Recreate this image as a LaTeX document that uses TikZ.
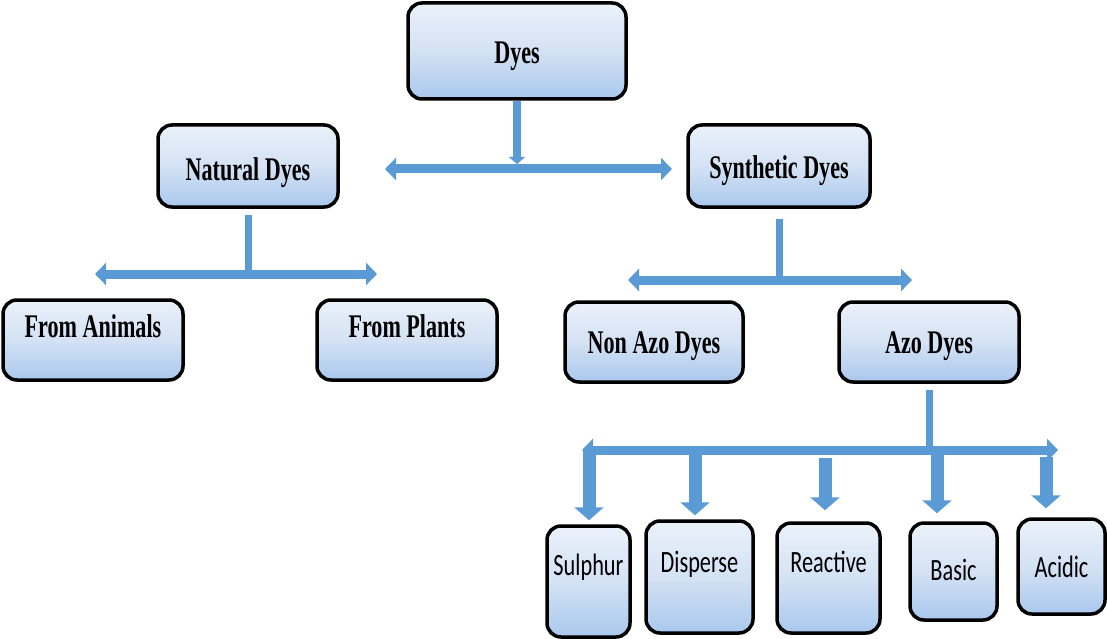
\documentclass[tikz,border=0pt]{standalone}
\usepackage{fontspec}
\setmainfont[FakeStretch=0.67]{Liberation Serif}
\newfontfamily\labelsans[FakeStretch=0.72]{Carlito}
\usetikzlibrary{arrows.meta}

\definecolor{arrowblue}{HTML}{5B9BD5}
\definecolor{boxtop}{HTML}{EAF1FA}
\definecolor{boxmid}{HTML}{D4E2F4}
\definecolor{boxbot}{HTML}{A9C8EE}

\tikzset{
  box/.style={draw=black, line width=3.5pt, rounded corners=14pt,
    top color=boxtop, bottom color=boxbot, middle color=boxmid,
    inner sep=2pt, anchor=center},
  serifbox/.style={box, font=\fontsize{33}{37}\selectfont\bfseries},
  sansbox/.style={box, font=\labelsans\fontsize{31}{35}\selectfont},
  stem/.style={draw=arrowblue, line width=7pt},
  topstem/.style={draw=arrowblue, line width=8pt,
    -{Triangle[length=7pt,width=16pt]}},
  bar/.style={draw=arrowblue, line width=9pt,
    -{Triangle[length=11pt,width=22pt]}},
  drop/.style={draw=arrowblue, line width=13pt,
    -{Triangle[length=13pt,width=29pt]}}
}

\begin{document}
\begin{tikzpicture}[x=1pt,y=-1pt]
\useasboundingbox (0,0) rectangle (1107,639);

% ---- boxes ----
\node[serifbox, minimum width=218pt, minimum height=96pt,
      text height=25pt, text depth=0pt] (dyes) at (517,51) {Dyes};

\node[serifbox, minimum width=180pt, minimum height=82pt,
      text height=28pt, text depth=0pt] (nat) at (248,166) {Natural Dyes};
\node[serifbox, minimum width=182pt, minimum height=82pt,
      text height=25pt, text depth=0pt] (syn) at (779,166) {Synthetic Dyes};

\node[serifbox, minimum width=180pt, minimum height=80pt,
      text height=22pt, text depth=27pt] (anim) at (93,340) {From Animals};
\node[serifbox, minimum width=180pt, minimum height=80pt,
      text height=22pt, text depth=27pt] (plant) at (407,340) {From Plants};

\node[serifbox, minimum width=178pt, minimum height=80pt,
      text height=22pt, text depth=0pt] (nonazo) at (654,342) {Non Azo Dyes};
\node[serifbox, minimum width=180pt, minimum height=80pt,
      text height=22pt, text depth=0pt] (azo) at (929,342) {Azo Dyes};

\node[sansbox, minimum width=83pt, minimum height=111pt,
      text height=19.5pt, text depth=32pt] (sulphur) at (588.5,581.5) {Sulphur};
\node[sansbox, minimum width=107pt, minimum height=112pt,
      text height=19.5pt, text depth=29pt] (disperse) at (699.5,577) {Disperse};
\node[sansbox, minimum width=103pt, minimum height=110pt,
      text height=19.5pt, text depth=31pt] (reactive) at (828.5,578) {Reactive};
\node[sansbox, minimum width=87pt, minimum height=97pt,
      text height=19.5pt, text depth=2pt] (basic) at (953.5,571.5) {Basic};
\node[sansbox, minimum width=87pt, minimum height=95pt,
      text height=21.5pt, text depth=0pt] (acidic) at (1061.5,566.5) {Acidic};

% ---- junctions and bar ends ----
\coordinate (j0) at (543,169);
\coordinate (b0l) at (385,169);
\coordinate (b0r) at (672,169);

\coordinate (j1) at (248,274);
\coordinate (b1l) at (95,274);
\coordinate (b1r) at (377,274);

\coordinate (j2) at (779,280);
\coordinate (b2l) at (628,280);
\coordinate (b2r) at (912,280);

\coordinate (j3) at (929,450);
\coordinate (b3l) at (582,450);
\coordinate (b3r) at (1058,450);

\coordinate (d1) at (589,450);
\coordinate (d2) at (695,450);
\coordinate (d3) at (825,450);
\coordinate (d4) at (937,450);
\coordinate (d5) at (1046,450);

% ---- stems ----
\draw[topstem, shorten >=5pt] (dyes.south) -- (dyes.south |- j0);
\draw[stem] ([yshift=-6pt]nat.south) -- (j1);
\draw[stem] ([yshift=-10pt]syn.south) -- (j2);
\draw[stem] ([yshift=-6pt]azo.south) -- (j3);

% ---- drops to the dye classes ----
\draw[drop, shorten >=4pt] (d1) -- (d1 |- sulphur.north);
\draw[drop, shorten >=4pt] (d2) -- (d2 |- disperse.north);
\draw[drop, shorten <=8pt, shorten >=11pt] (d3) -- (d3 |- reactive.north);
\draw[drop, shorten >=8pt] (d4) -- (d4 |- basic.north);
\draw[drop, shorten <=7pt, shorten >=9pt] (d5) -- (d5 |- acidic.north);

% ---- double-headed bars ----
\draw[bar] (j0) -- (b0l);
\draw[bar] (j0) -- (b0r);
\draw[bar] (j1) -- (b1l);
\draw[bar] (j1) -- (b1r);
\draw[bar] (j2) -- (b2l);
\draw[bar] (j2) -- (b2r);
\draw[bar] (j3) -- (b3l);
\draw[bar] (j3) -- (b3r);
\end{tikzpicture}
\end{document}
